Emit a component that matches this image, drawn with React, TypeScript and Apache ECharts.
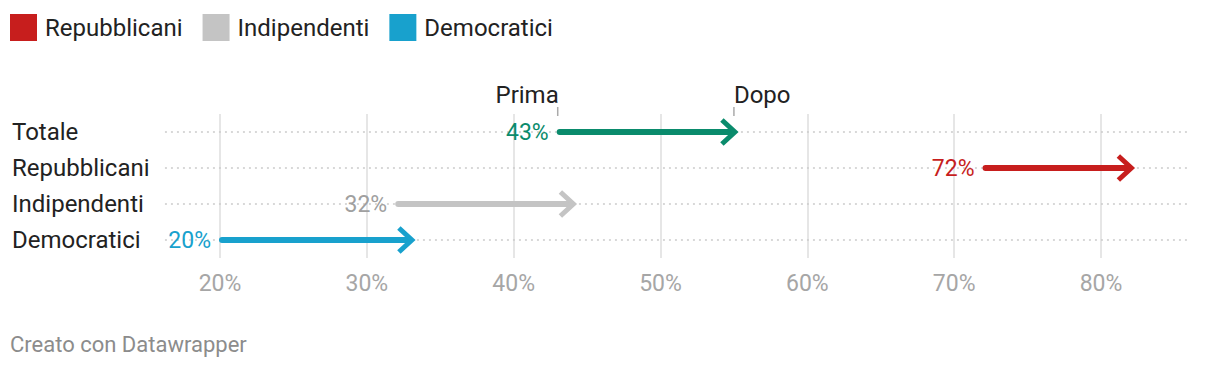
import React, { useEffect, useRef } from "react";
import * as echarts from "echarts";

const CATEGORIES = ["Totale", "Repubblicani", "Indipendenti", "Democratici"];
const PRIMA = [43, 72, 32, 20];
const DOPO = [55, 82, 44, 33];
const LINE_COLORS = ["#0a8b6c", "#c71e1d", "#c4c4c4", "#18a1cd"];
const LABEL_COLORS = ["#0a8b6c", "#c71e1d", "#a0a0a0", "#18a1cd"];
const LEGEND_ITEMS = ["Repubblicani", "Indipendenti", "Democratici"];
const ANNOTATIONS = ["Prima", "Dopo"];
const X_MIN = 20;
const X_MAX = 80;
const X_INTERVAL = 10;
const VIEW_MIN = 16.25;
const VIEW_MAX = 85.9;
const FOOTER = "Creato con Datawrapper";

const FONT = "Roboto";

function makeRenderItem(rowIndex: number) {
  return (params: any, api: any) => {
    const cat = api.value(2);
    const y = api.coord([X_MIN, cat])[1];
    const x0 = api.coord([api.value(0), cat])[0];
    const x1 = api.coord([api.value(1), cat])[0];
    const xl = api.coord([VIEW_MIN, cat])[0];
    const xr = api.coord([VIEW_MAX, cat])[0];
    const color = LINE_COLORS[rowIndex];
    const children: any[] = [
      {
        type: "line",
        shape: { x1: xl, y1: y, x2: xr, y2: y },
        style: { stroke: "#cccccc", lineWidth: 1.5, lineDash: [2, 4] },
        z2: 1,
      },
      {
        type: "line",
        shape: { x1: x0 + 2, y1: y, x2: x1 - 2, y2: y },
        style: { stroke: color, lineWidth: 6, lineCap: "round" },
        z2: 5,
      },
      {
        type: "polyline",
        shape: {
          points: [
            [x1 - 12, y - 12],
            [x1 + 1, y],
            [x1 - 12, y + 12],
          ],
        },
        style: { stroke: color, lineWidth: 5, fill: null, lineJoin: "miter", lineCap: "butt" },
        z2: 5,
      },
      {
        type: "text",
        x: x0 - 9,
        y: y,
        style: {
          text: api.value(0) + "%",
          fill: LABEL_COLORS[rowIndex],
          font: `23px ${FONT}`,
          align: "right",
          verticalAlign: "middle",
        },
        z2: 5,
      },
    ];
    if (rowIndex === 0) {
      children.push(
        {
          type: "line",
          shape: { x1: x0, y1: y - 25, x2: x0, y2: y - 16 },
          style: { stroke: "#aaaaaa", lineWidth: 1.5 },
        },
        {
          type: "line",
          shape: { x1: x1, y1: y - 25, x2: x1, y2: y - 16 },
          style: { stroke: "#aaaaaa", lineWidth: 1.5 },
        },
        {
          type: "text",
          x: x0 + 1,
          y: y - 37,
          style: {
            text: ANNOTATIONS[0],
            fill: "#222222",
            font: `24px ${FONT}`,
            align: "right",
            verticalAlign: "middle",
          },
        },
        {
          type: "text",
          x: x1,
          y: y - 37,
          style: {
            text: ANNOTATIONS[1],
            fill: "#222222",
            font: `24px ${FONT}`,
            align: "left",
            verticalAlign: "middle",
          },
        }
      );
    }
    return { type: "group", children };
  };
}

export default function App() {
  const ref = useRef<HTMLDivElement>(null);
  useEffect(() => {
    document.body.style.margin = "0";
    if (!ref.current) return;
    const chart = echarts.init(ref.current, null, { renderer: "svg" });
    const series = CATEGORIES.map((name, i) => ({
      type: "custom",
      name,
      data: [[PRIMA[i], DOPO[i], i]],
      encode: { x: [0, 1], y: 2 },
      itemStyle: { color: LINE_COLORS[i] },
      renderItem: makeRenderItem(i),
      clip: false,
    }));
    chart.setOption({
      animation: false,
      backgroundColor: "#ffffff",
      textStyle: { fontFamily: FONT },
      legend: {
        data: LEGEND_ITEMS,
        left: 10,
        top: 14,
        padding: 0,
        itemWidth: 27,
        itemHeight: 27,
        itemGap: 20,
        icon: "rect",
        selectedMode: false,
        textStyle: { fontSize: 24, color: "#222222", fontFamily: FONT, padding: [0, 0, 0, 3] },
      },
      grid: { left: 220, right: 119, top: 114, height: 144 },
      xAxis: {
        type: "value",
        min: X_MIN,
        max: X_MAX,
        interval: X_INTERVAL,
        axisLine: { show: false },
        axisTick: { show: false },
        splitLine: { show: true, lineStyle: { color: "#e6e6e6", width: 2 } },
        axisLabel: {
          formatter: "{value}%",
          color: "#a6a6a6",
          fontSize: 23,
          margin: 14,
          fontFamily: FONT,
        },
      },
      yAxis: {
        type: "category",
        data: CATEGORIES,
        inverse: true,
        axisLine: { show: false },
        axisTick: { show: false },
        splitLine: { show: false },
        axisLabel: {
          align: "left",
          margin: 208,
          fontSize: 24,
          color: "#222222",
          fontFamily: FONT,
        },
      },
      graphic: [
        {
          type: "text",
          left: 10,
          top: 333,
          style: { text: FOOTER, fill: "#8c8c8c", font: `22px ${FONT}` },
        },
      ],
      series,
    });
    return () => chart.dispose();
  }, []);
  return <div ref={ref} style={{ width: 1220, height: 370 }} />;
}
